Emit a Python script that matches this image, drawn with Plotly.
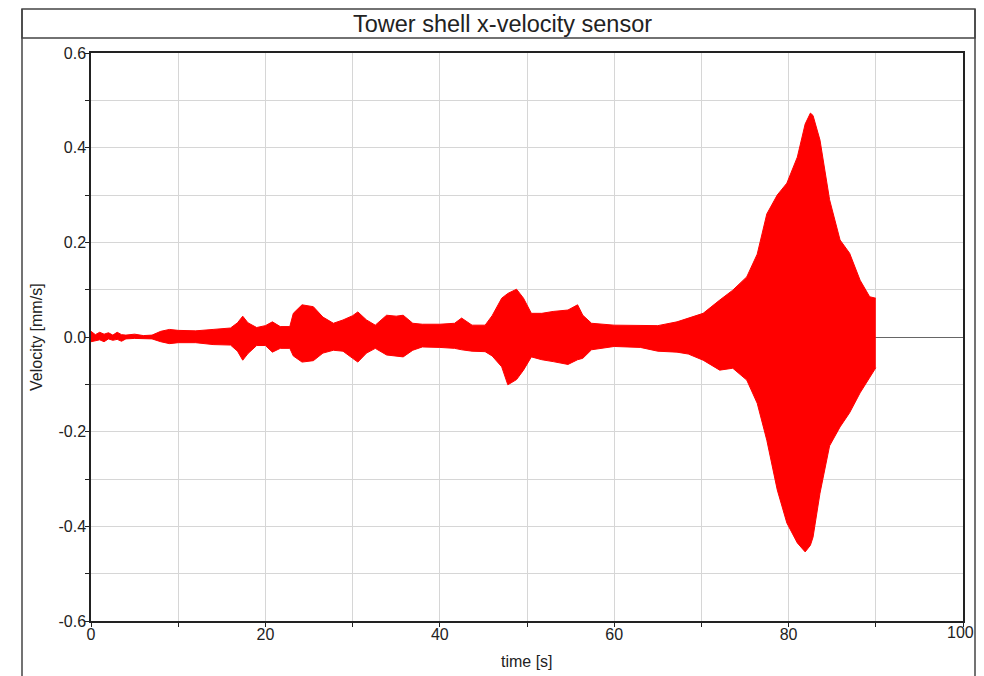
import plotly.graph_objects as go

# Envelope of the velocity signal (time in s, velocity in mm/s)
time_s = [0, 0.5, 1, 1.5, 2, 2.5, 3, 3.5, 4, 5, 6, 7, 8, 9, 10, 12, 14, 16, 16.8, 17.4,
          18, 19, 20, 20.8, 21.7, 22.8, 23.2, 24.2, 25.5, 26.6, 27.8, 28.9, 30, 30.6,
          31.6, 32.6, 33.9, 35, 35.8, 36.9, 38, 40, 41.7, 42.5, 43.7, 45.2, 46, 47.1,
          47.8, 48.8, 49.6, 50.5, 51.7, 53, 54.7, 55.8, 56.4, 57.4, 60, 63, 65, 67.2,
          68.5, 70.2, 72.1, 73.6, 75.2, 76.4, 77.5, 78.7, 79.8, 81, 81.9, 82.5, 82.8,
          83.6, 84.7, 85.9, 87, 88.2, 89.3, 89.9, 90]
upper = [0.012, 0.005, 0.010, 0.006, 0.009, 0.004, 0.010, 0.005, 0.004, 0.006, 0.003,
         0.004, 0.012, 0.016, 0.014, 0.013, 0.016, 0.019, 0.030, 0.044, 0.030, 0.020,
         0.024, 0.032, 0.022, 0.022, 0.050, 0.068, 0.064, 0.042, 0.029, 0.036, 0.045,
         0.053, 0.036, 0.025, 0.046, 0.044, 0.046, 0.029, 0.027, 0.027, 0.029, 0.040,
         0.025, 0.025, 0.045, 0.082, 0.092, 0.101, 0.082, 0.050, 0.050, 0.054, 0.057,
         0.068, 0.046, 0.029, 0.025, 0.025, 0.024, 0.032, 0.040, 0.050, 0.078, 0.099,
         0.127, 0.175, 0.260, 0.300, 0.325, 0.380, 0.450, 0.473, 0.468, 0.416, 0.290,
         0.205, 0.177, 0.120, 0.085, 0.082, 0.082]
lower = [-0.010, -0.008, -0.006, -0.010, -0.004, -0.007, -0.005, -0.009, -0.004, -0.003,
         -0.003, -0.004, -0.010, -0.014, -0.012, -0.012, -0.016, -0.017, -0.030, -0.049,
         -0.035, -0.018, -0.018, -0.032, -0.024, -0.024, -0.040, -0.053, -0.050, -0.034,
         -0.028, -0.030, -0.045, -0.053, -0.034, -0.024, -0.038, -0.040, -0.042, -0.028,
         -0.021, -0.022, -0.024, -0.027, -0.030, -0.031, -0.040, -0.063, -0.101, -0.090,
         -0.070, -0.042, -0.048, -0.052, -0.058, -0.048, -0.045, -0.027, -0.020, -0.022,
         -0.030, -0.032, -0.036, -0.049, -0.070, -0.066, -0.091, -0.140, -0.218, -0.323,
         -0.393, -0.435, -0.454, -0.440, -0.423, -0.330, -0.230, -0.190, -0.160, -0.118,
         -0.085, -0.070, -0.065]

x_tick_values = [0, 20, 40, 60, 80, 100]
x_tick_labels = ["0", "20", "40", "60", "80", "100"]
y_tick_values = [-0.6, -0.4, -0.2, 0.0, 0.2, 0.4, 0.6]
y_tick_labels = ["-0.6", "-0.4", "-0.2", "0.0", "0.2", "0.4", "0.6"]

RED = "#ff0000"
FONT = "Liberation Sans, Arial, sans-serif"

fig = go.Figure()
fig.add_trace(go.Scatter(x=time_s, y=upper, mode="lines",
                         line=dict(color=RED, width=1), showlegend=False,
                         hoverinfo="skip"))
fig.add_trace(go.Scatter(x=time_s, y=lower, mode="lines", fill="tonexty",
                         fillcolor=RED, line=dict(color=RED, width=1),
                         showlegend=False, hoverinfo="skip"))

OFF = 8  # page body margin
W, H = 984 - 2 * OFF, 676 - OFF
# plot area in reference-page pixels
L, R, T, B = 91, 963, 53, 621
pw, ph = R - L, B - T


def px(x):
    return (x - L) / pw


def py(y):
    return (B - y) / ph


# the last x label would spill past the page edge, so it is placed right-aligned
shown_x_labels = x_tick_labels[:-1] + [""]

fig.update_layout(
    width=W, height=H,
    margin=dict(l=L - OFF, r=(W + OFF) - R, t=T - OFF, b=(H + OFF) - B),
    paper_bgcolor="white", plot_bgcolor="white",
    font=dict(family=FONT, size=16, color="#222"),
    xaxis=dict(range=[0, 100], tickvals=x_tick_values, ticktext=shown_x_labels,
               showgrid=True, gridcolor="#d6d6d6", gridwidth=1,
               minor=dict(dtick=10, tick0=0, showgrid=True, gridcolor="#d6d6d6",
                          ticks="outside", ticklen=4, tickcolor="#222"),
               ticks="outside", ticklen=4, tickcolor="#222",
               ticklabelstandoff=-6,
               showline=True, linecolor="#222", linewidth=1.5, mirror=True,
               zeroline=False, tickfont=dict(size=16, color="#222")),
    yaxis=dict(range=[-0.6, 0.6], tickvals=y_tick_values, ticktext=y_tick_labels,
               showgrid=True, gridcolor="#d6d6d6", gridwidth=1,
               minor=dict(dtick=0.1, tick0=0, showgrid=True, gridcolor="#d6d6d6",
                          ticks="outside", ticklen=4, tickcolor="#222"),
               ticks="outside", ticklen=4, tickcolor="#222",
               ticklabelstandoff=-4,
               showline=True, linecolor="#222", linewidth=1.5, mirror=True,
               zeroline=True, zerolinecolor="#666", zerolinewidth=1,
               tickfont=dict(size=16, color="#222")),
    shapes=[
        # title box
        dict(type="rect", xref="paper", yref="paper", x0=px(22), x1=px(975),
             y0=py(38), y1=py(9), line=dict(color="#444", width=1.5)),
        # panel side borders
        dict(type="line", xref="paper", yref="paper", x0=px(22), x1=px(22),
             y0=py(9), y1=py(700), line=dict(color="#444", width=1.5)),
        dict(type="line", xref="paper", yref="paper", x0=px(975), x1=px(975),
             y0=py(9), y1=py(700), line=dict(color="#444", width=1.5)),
    ],
    annotations=[
        dict(text="Tower shell x-velocity sensor", xref="paper", yref="paper",
             x=px(502), y=py(23.5), xanchor="center", yanchor="middle",
             showarrow=False, font=dict(family=FONT, size=23.5, color="#222")),
        dict(text="time [s]", xref="paper", yref="paper", x=0.5, y=py(661),
             xanchor="center", yanchor="middle", showarrow=False,
             font=dict(family=FONT, size=16, color="#222")),
        dict(text="Velocity [mm/s]", xref="paper", yref="paper", x=px(36),
             y=py(337), xanchor="center", yanchor="middle", textangle=-90,
             showarrow=False, font=dict(family=FONT, size=16, color="#222")),
        dict(text=x_tick_labels[-1], xref="paper", yref="paper", x=px(975),
             y=py(623), xanchor="right", yanchor="top", showarrow=False,
             borderpad=0, font=dict(family=FONT, size=16, color="#222")),
    ],
)

fig.write_html("out.html")
